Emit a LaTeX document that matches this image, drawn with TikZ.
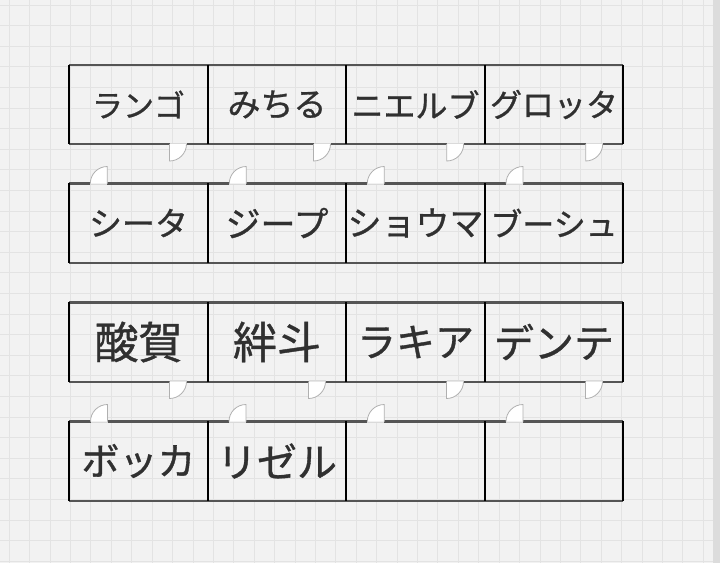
\documentclass[tikz,border=0pt]{standalone}
\usepackage{fontspec}
\setmainfont[FakeBold=0.9]{Noto Sans CJK JP}
\definecolor{bg}{HTML}{F2F2F2}
\definecolor{gridc}{HTML}{E3E3E3}
\definecolor{strip}{HTML}{DCDCDC}
\definecolor{hw}{HTML}{555555}
\definecolor{txt}{HTML}{303030}
\definecolor{dr}{HTML}{B0B0B0}
\definecolor{sl}{HTML}{DADADA}
\newcommand\rlab[2]{{\fontsize{#1}{#1}\selectfont #2}}
\begin{document}
\begin{tikzpicture}[x=1pt,y=-1pt,
  room/.style={minimum width=138.5pt, minimum height=79pt, inner sep=0pt, text=txt},
  hwall/.style={draw=hw, line width=2.4pt},
  vwall/.style={draw=black, line width=2pt},
  leaf/.style={draw=dr, line width=0.8pt, fill=white},
  sill/.style={draw=sl, line width=2.4pt}]
\useasboundingbox (0,0) rectangle (720,563);
\fill[bg] (0,0) rectangle (720,563);
\foreach \i in {0,...,34} \draw[gridc, line width=0.9pt] (9.3+\i*20.41,0) -- (9.3+\i*20.41,563);
\foreach \j in {0,...,27} \draw[gridc, line width=0.9pt] (0,5+\j*20.6) -- (720,5+\j*20.6);
\fill[strip] (713,0) rectangle (720,563);
% rooms
\node[room] (r11) at (138.5,104.5) {\rlab{31}{ランゴ}};
\node[room] (r12) at (277,104.5) {\rlab{33}{みちる}};
\node[room] (r13) at (415.5,104.5) {\rlab{32}{ニエルブ}};
\node[room] (r14) at (554,104.5) {\rlab{32}{グロッタ}};
\node[room] (r21) at (138.5,223) {\rlab{33}{シータ}};
\node[room] (r22) at (277,223) {\rlab{35}{ジープ}};
\node[room] (r23) at (415.5,223) {\rlab{34}{ショウマ}};
\node[room] (r24) at (554,223) {\rlab{32}{ブーシュ}};
\node[room] (r31) at (138.5,342) {\rlab{44}{酸賀}};
\node[room] (r32) at (277,342) {\rlab{44}{絆斗}};
\node[room] (r33) at (415.5,342) {\rlab{39}{ラキア}};
\node[room] (r34) at (554,342) {\rlab{40}{デンテ}};
\node[room] (r41) at (138.5,461) {\raisebox{-5pt}{\rlab{38}{ボッカ}}};
\node[room] (r42) at (277,461) {\raisebox{-5pt}{\rlab{40}{リゼル}}};
\node[room] (r43) at (415.5,461) {};
\node[room] (r44) at (554,461) {};
% walls
\foreach \r in {1,2,3,4}{
  \draw[hwall] (r\r1.north west) -- (r\r4.north east);
  \draw[hwall] (r\r1.south west) -- (r\r4.south east);
  \draw[vwall] (r\r1.north west) -- (r\r1.south west);
  \foreach \c in {1,2,3,4} \draw[vwall] (r\r\c.north east) -- (r\r\c.south east);
}
% doors below rows 1 and 3 (hinge at left)
\foreach \x/\y in {169.5/144, 313.5/144, 446.7/144, 585.7/144, 169.5/381.5, 308.5/381.5, 446.5/381.5, 585.5/381.5}{
  \draw[sill] (\x,\y) -- (\x+17,\y);
  \draw[leaf] (\x,\y) -- (\x,\y+17) arc[start angle=-90, end angle=0, radius=17pt];
}
% doors above rows 2 and 4 (hinge at right)
\foreach \x/\y in {107.3/183.5, 246.3/183.5, 384.3/183.5, 523/183.5, 107.5/421.5, 246/421.5, 384.3/421.5, 523/421.5}{
  \draw[sill] (\x-17,\y) -- (\x,\y);
  \draw[leaf] (\x,\y) -- (\x,\y-17) arc[start angle=90, end angle=180, radius=17pt];
}
\end{tikzpicture}
\end{document}
